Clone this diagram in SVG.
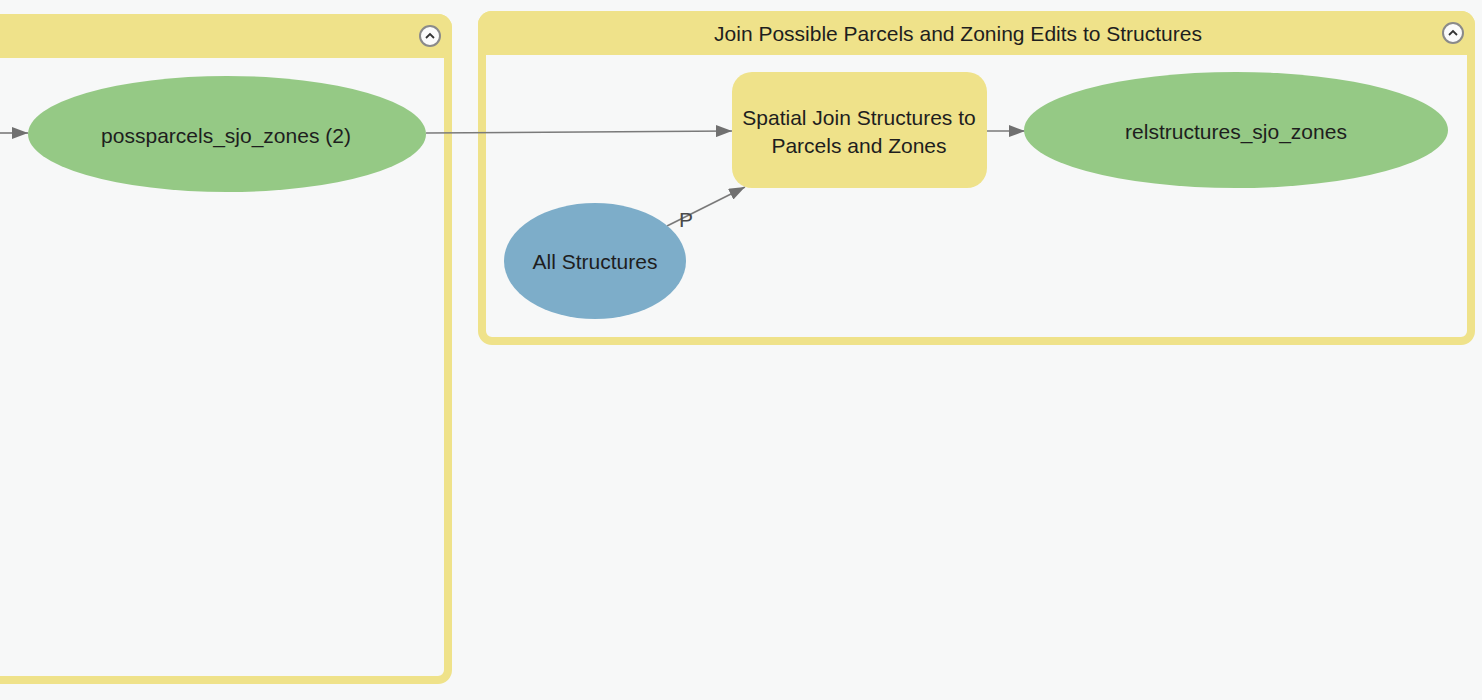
<svg xmlns="http://www.w3.org/2000/svg" width="1482" height="700" viewBox="0 0 1482 700">
<style>
.grp{fill:#f7f8f8;stroke:#efe28a;stroke-width:8}
.hdr{fill:#efe28a}
.txt{font-family:"Liberation Sans",Arial,sans-serif;font-size:21px;fill:#1e1e1e;text-anchor:middle}
.data{fill:#95c985}
.input{fill:#7dadc9}
.tool{fill:#efe28a}
.conn{stroke:#7a7a7a;stroke-width:1.6;fill:none}
.icon{fill:#fbfbfb;stroke:#8a8a8a;stroke-width:2}
.chev{fill:none;stroke:#333;stroke-width:1.8}
</style>
<defs>
<marker id="arr" markerWidth="16" markerHeight="12" refX="16" refY="6" orient="auto" markerUnits="userSpaceOnUse">
<path d="M0,0 L16,6 L0,12 Z" fill="#707070"/>
</marker>
</defs>
<rect x="0" y="0" width="1482" height="700" fill="#f7f8f8"/>
<g id="group-left">
<rect class="grp" x="-30" y="18" width="478" height="662" rx="10"/>
<path class="hdr" d="M-30,14 H438 A14,14 0 0 1 452,28 V58 H-30 Z"/>
<circle class="icon" cx="430" cy="36" r="10"/>
<path class="chev" d="M426,38 L430,34 L434,38"/>
</g>
<g id="group-right">
<rect class="grp" x="482" y="15" width="989" height="326" rx="10"/>
<path class="hdr" d="M478,25 A14,14 0 0 1 492,11 H1461 A14,14 0 0 1 1475,25 V55 H478 Z"/>
<text class="txt" x="958" y="41">Join Possible Parcels and Zoning Edits to Structures</text>
<circle class="icon" cx="1453" cy="33" r="10"/>
<path class="chev" d="M1449,35 L1453,31 L1457,35"/>
</g>
<g id="connectors">
<line class="conn" x1="0" y1="133" x2="28" y2="133" marker-end="url(#arr)"/>
<line class="conn" x1="426" y1="133" x2="732" y2="131" marker-end="url(#arr)"/>
<line class="conn" x1="987" y1="131" x2="1025" y2="131" marker-end="url(#arr)"/>
<line class="conn" x1="667" y1="226" x2="745" y2="187" marker-end="url(#arr)"/>
<text class="txt" x="686" y="227" style="fill:#4a4a4a">P</text>
</g>
<g id="node-possparcels">
<ellipse class="data" cx="227" cy="134" rx="199" ry="58"/>
<text class="txt" x="226" y="143">possparcels_sjo_zones (2)</text>
</g>
<g id="node-spatial-join">
<rect class="tool" x="732" y="72" width="255" height="116" rx="20"/>
<text class="txt" x="859" y="125">Spatial Join Structures to</text>
<text class="txt" x="859" y="153">Parcels and Zones</text>
</g>
<g id="node-relstructures">
<ellipse class="data" cx="1236" cy="130" rx="212" ry="58"/>
<text class="txt" x="1236" y="139">relstructures_sjo_zones</text>
</g>
<g id="node-all-structures">
<ellipse class="input" cx="595" cy="261" rx="91" ry="58"/>
<text class="txt" x="595" y="269">All Structures</text>
</g>
</svg>
